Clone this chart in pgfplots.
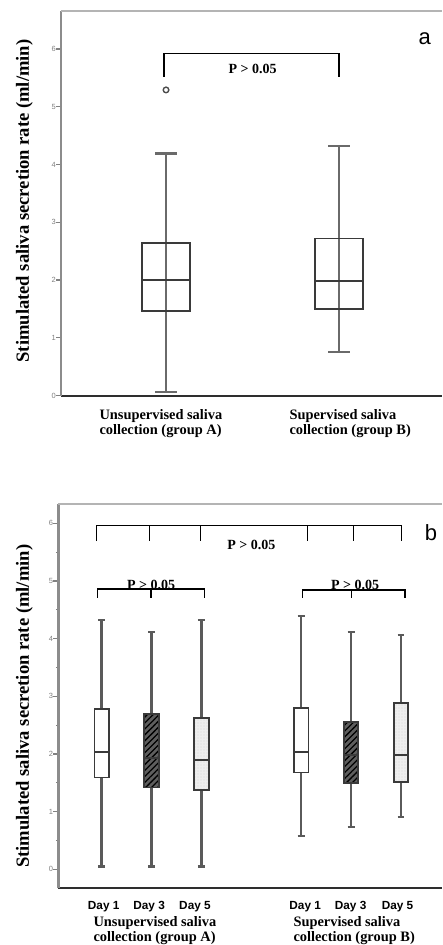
\documentclass[border=0pt]{standalone}
\usepackage{fontspec}
\setmainfont{Liberation Serif}
\newfontfamily\arial{Liberation Sans}
\usepackage{pgfplots}
\pgfplotsset{compat=1.18}
\usepgfplotslibrary{statistics}
\usetikzlibrary{patterns,patterns.meta}
\definecolor{boxc}{HTML}{3A3A3A}
\definecolor{whc}{HTML}{6A6A6A}
\definecolor{whb}{HTML}{5A5A5A}
\definecolor{leftc}{HTML}{8C8C8C}
\definecolor{topc}{HTML}{B4B4B4}
\definecolor{botc}{HTML}{2E2E2E}
\definecolor{hatchbg}{HTML}{5E5E5E}
\definecolor{dotbg}{HTML}{EEEEEE}
\pgfplotsset{
  common/.style={
    scale only axis,
    boxplot/draw direction=y,
    axis x line*=bottom, axis y line*=left,
    x axis line style={draw=botc, line width=2pt},
    y axis line style={draw=leftc, line width=2.5pt},
    ytick={0,1,2,3,4,5,6},
    tick align=outside,
    major tick length=5pt,
    minor tick length=2.5pt,
    ytick style={draw=gray, line width=1.2pt},
    yticklabel style={font=\arial\fontsize{7.5}{8}\selectfont, text=gray, inner sep=0pt},
    /pgf/number format/assume math mode=true,
    clip=false,
  },
  bxw/.style={boxplot/every whisker/.style={draw=whc, line width=2.2pt}},
  bxwb/.style={boxplot/every whisker/.style={draw=whb, line width=2.4pt}},
  bxm/.style={boxplot/every median/.style={draw=boxc, line width=1.8pt}},
  plainbox/.style={bxwb, bxm, boxplot/every box/.style={draw=boxc, line width=1.8pt, fill=white}},
  hatchbox/.style={bxwb, bxm, boxplot/every box/.style={draw=boxc, line width=1.8pt,
      preaction={fill=hatchbg},
      preaction={pattern={Lines[angle=45,distance=4.2pt,line width=1.3pt]}, pattern color=black}}},
  dotbox/.style={bxwb, bxm, boxplot/every box/.style={draw=boxc, line width=1.8pt,
      preaction={fill=dotbg},
      preaction={pattern={Dots[distance=3pt,radius=0.35pt]}, pattern color=gray!70}}},
}
\begin{document}
\begin{tikzpicture}
\path[use as bounding box] (0pt,0pt) rectangle (442pt,945pt);
% ---------------- panel a ----------------
\begin{axis}[common, at={(61pt,549.3pt)}, anchor=south west,
  width=381pt, height=384.7pt,
  xmin=0.393, xmax=2.595, ymin=0, ymax=6.656, xtick=\empty]
\draw[topc, line width=1.8pt] (rel axis cs:0,1) -- (rel axis cs:1,1);
\addplot[whc, line width=2.2pt] coordinates {(1,0.06) (1,4.19)};
\addplot[whc, line width=2.2pt] coordinates {(2,0.75) (2,4.32)};
\addplot[bxw, bxm, boxplot/every box/.style={draw=boxc, line width=1.8pt},
  boxplot prepared={lower whisker=0.06, lower quartile=1.465, median=2.0,
    upper quartile=2.647, upper whisker=4.19, draw position=1,
    box extend=0.277, whisker extend=0.127}] coordinates {};
\addplot[bxw, bxm, boxplot/every box/.style={draw=boxc, line width=1.8pt},
  boxplot prepared={lower whisker=0.75, lower quartile=1.50, median=1.98,
    upper quartile=2.72, upper whisker=4.32, draw position=2,
    box extend=0.277, whisker extend=0.127}] coordinates {};
\addplot[only marks, mark=o, mark size=2.8pt, draw=black!70, line width=1.4pt]
  coordinates {(1,5.29)};
\draw[black, line width=1.2pt] (axis cs:0.988,5.52) -- (axis cs:0.988,5.92)
  -- (axis cs:2.0,5.92) -- (axis cs:2.0,5.52);
\node[anchor=base, font=\bfseries\fontsize{14}{15}\selectfont, inner sep=0pt]
  at (axis cs:1.501,5.566) {P > 0.05};
\node[anchor=base, font=\arial\fontsize{22}{24}\selectfont, inner sep=0pt]
  at (axis cs:2.495,6.07) {a};
\end{axis}
% ---------------- panel b ----------------
\begin{axis}[common, at={(58.3pt,56.7pt)}, anchor=south west,
  width=383.7pt, height=384pt,
  xmin=0.13, xmax=7.822, ymin=-0.33, ymax=6.33,
  minor y tick num=1,
  xtick={1.04,1.95,2.87,5.08,5.99,6.93},
  xticklabels={Day 1,Day 3,Day 5,Day 1,Day 3,Day 5},
  xtick style={draw=none},
  xticklabel style={font=\arial\bfseries\fontsize{11.8}{12}\selectfont, anchor=base, inner sep=0pt, yshift=-16pt}]
\draw[topc, line width=1.8pt] (rel axis cs:0,1) -- (rel axis cs:1,1);
\addplot[plainbox, boxplot prepared={lower whisker=0.046, lower quartile=1.59, median=2.04,
    upper quartile=2.775, upper whisker=4.325, draw position=1,
    box extend=0.29, whisker extend=0.14}] coordinates {};
\addplot[hatchbox, boxplot prepared={lower whisker=0.046, lower quartile=1.417, median=1.925,
    upper quartile=2.69, upper whisker=4.12, draw position=2,
    box extend=0.29, whisker extend=0.14}] coordinates {};
\addplot[dotbox, boxplot prepared={lower whisker=0.046, lower quartile=1.376, median=1.897,
    upper quartile=2.63, upper whisker=4.325, draw position=3,
    box extend=0.29, whisker extend=0.14}] coordinates {};
\addplot[plainbox, boxplot prepared={lower whisker=0.578, lower quartile=1.68, median=2.04,
    upper quartile=2.80, upper whisker=4.39, draw position=5,
    box extend=0.29, whisker extend=0.14}] coordinates {};
\addplot[hatchbox, boxplot prepared={lower whisker=0.73, lower quartile=1.50, median=1.98,
    upper quartile=2.56, upper whisker=4.12, draw position=6,
    box extend=0.29, whisker extend=0.14}] coordinates {};
\addplot[dotbox, boxplot prepared={lower whisker=0.91, lower quartile=1.52, median=1.98,
    upper quartile=2.89, upper whisker=4.065, draw position=7,
    box extend=0.29, whisker extend=0.14}] coordinates {};
% brackets
\draw[black, line width=1.3pt] (axis cs:0.892,5.69) -- (axis cs:0.892,5.96)
  -- (axis cs:7.012,5.96) -- (axis cs:7.012,5.69);
\draw[black, line width=1.3pt] (axis cs:1.962,5.96) -- (axis cs:1.962,5.69);
\draw[black, line width=1.3pt] (axis cs:2.985,5.96) -- (axis cs:2.985,5.69);
\draw[black, line width=1.3pt] (axis cs:5.122,5.96) -- (axis cs:5.122,5.69);
\draw[black, line width=1.3pt] (axis cs:6.049,5.96) -- (axis cs:6.049,5.69);
\node[anchor=base, font=\bfseries\fontsize{14}{15}\selectfont, inner sep=0pt]
  at (axis cs:4.0,5.54) {P > 0.05};
\draw[black, line width=1.3pt] (axis cs:0.91,4.71) -- (axis cs:0.91,4.86)
  -- (axis cs:3.06,4.86) -- (axis cs:3.06,4.71);
\draw[black, line width=1.3pt] (axis cs:1.99,4.86) -- (axis cs:1.99,4.71);
\node[anchor=base, font=\bfseries\fontsize{14}{15}\selectfont, inner sep=0pt]
  at (axis cs:1.99,4.845) {P > 0.05};
\draw[black, line width=1.3pt] (axis cs:5.03,4.71) -- (axis cs:5.03,4.845)
  -- (axis cs:7.08,4.845) -- (axis cs:7.08,4.71);
\draw[black, line width=1.3pt] (axis cs:6.01,4.845) -- (axis cs:6.01,4.71);
\node[anchor=base, font=\bfseries\fontsize{14}{15}\selectfont, inner sep=0pt]
  at (axis cs:6.08,4.845) {P > 0.05};
\node[anchor=base, font=\arial\fontsize{22}{24}\selectfont, inner sep=0pt]
  at (axis cs:7.60,5.70) {b};
\end{axis}
% ---------------- labels ----------------
\node[rotate=90, font=\bfseries\fontsize{18.6}{20}\selectfont, inner sep=0pt]
  at (24.5pt,744pt) {Stimulated saliva secretion rate (ml/min)};
\node[rotate=90, font=\bfseries\fontsize{18.6}{20}\selectfont, inner sep=0pt]
  at (24.5pt,238.8pt) {Stimulated saliva secretion rate (ml/min)};
\begin{scope}[every node/.style={anchor=base west, inner sep=0pt, font=\bfseries\fontsize{14.4}{15}\selectfont}]
\node at (99.3pt,525pt) {Unsupervised saliva};
\node at (99.3pt,510.5pt) {collection (group A)};
\node at (289.3pt,525pt) {Supervised saliva};
\node at (289.3pt,510.5pt) {collection (group B)};
\node at (93.3pt,18.3pt) {Unsupervised saliva};
\node at (93.3pt,3.3pt) {collection (group A)};
\node at (293.3pt,18.3pt) {Supervised saliva};
\node at (293.3pt,3.3pt) {collection (group B)};
\end{scope}
\end{tikzpicture}
\end{document}
